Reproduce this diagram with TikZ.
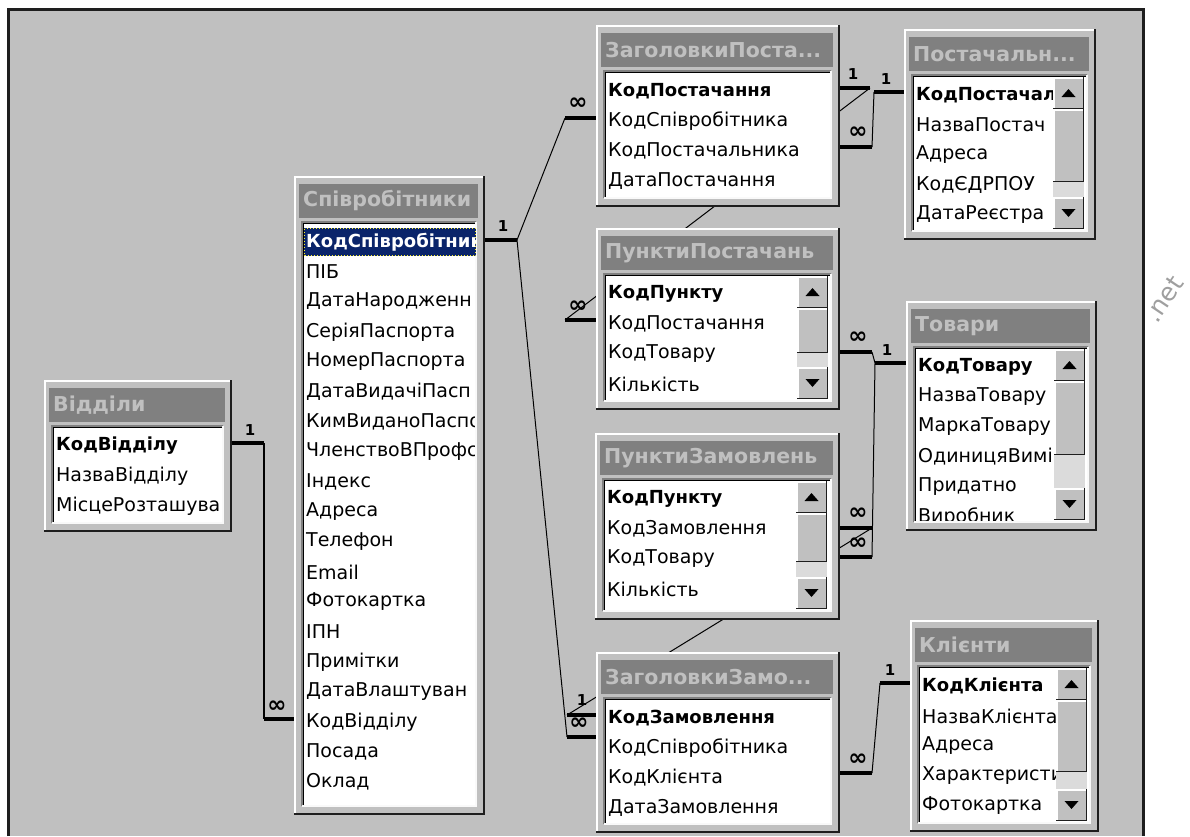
\documentclass[tikz,border=0pt]{standalone}
\usepackage{fontspec}
\setmainfont{DejaVu Sans}
\usetikzlibrary{positioning,calc}
\definecolor{panel}{RGB}{192,192,192}
\definecolor{bardark}{RGB}{128,128,128}
\definecolor{selblue}{RGB}{10,36,106}
\definecolor{edgedark}{RGB}{30,30,30}
\pgfdeclarelayer{back}
\pgfdeclarelayer{links}
\pgfsetlayers{back,links,main}
\tikzset{
  tbl/.style={fill=panel, inner sep=0pt, outer sep=0pt, draw=none},
  hilite/.style={white, line width=1.5pt},
  edgeline/.style={edgedark, line width=2.5pt},
  titlebar/.style={fill=bardark},
  titletext/.style={text=panel, anchor=west, inner sep=0pt, font=\bfseries\fontsize{20.5}{22}\selectfont},
  field/.style={anchor=west, inner sep=0pt, font=\fontsize{19}{21}\selectfont},
  stub/.style={line width=4pt},
  link/.style={line width=1pt},
  one/.style={font=\bfseries\fontsize{15}{15}\selectfont, inner sep=0pt},
  many/.style={font=\bfseries\fontsize{23}{23}\selectfont, inner sep=0pt}
}
\newcommand{\key}[1]{{\bfseries\fontsize{18}{21}\selectfont #1}}
% table window: [title style] name, x1, y1, x2, y2, title, fields
\newcommand{\dbtable}[8][]{%
  \node[tbl, minimum width={(#5-#3)*1pt}, minimum height={(#6-#4)*1pt}] (#2) at ({(#3+#5)/2},{(#4+#6)/2}) {};
  \draw[hilite] (#3+1,#6) -- (#3+1,#4+1) -- (#5,#4+1);
  \draw[edgeline] (#3,#6-1) -- (#5-1,#6-1) -- (#5-1,#4);
  \fill[titlebar] (#3+5,#4+8) rectangle (#5-7,#4+42);
  \node[titletext,#1] (#2-title) at (#3+9,#4+25) {#7};
  \fill[white] (#3+8,#4+46) rectangle (#5-9,#6-9);
  \begin{scope}
    \clip (#3+8,#4+46) rectangle (#5-9,#6-9);
    \foreach \f [count=\i from 0] in {#8}
      \node[field] (#2-f\i) at (#3+12,#4+66+30*\i) {\f};
  \end{scope}
  \draw[bardark, line width=1.5pt] (#3+8,#6-9) -- (#3+8,#4+46) -- (#5-9,#4+46);
  \draw[black, line width=1pt] (#3+9.5,#6-10) -- (#3+9.5,#4+47.5) -- (#5-10,#4+47.5);
  \draw[white!90!panel, line width=1.5pt] (#3+8,#6-9) -- (#5-9,#6-9) -- (#5-9,#4+46);
}
% 3d button: x1, y1, x2, y2
\newcommand{\sbtn}[4]{%
  \fill[panel] (#1,#2) rectangle (#3,#4);
  \draw[white, line width=1.5pt] (#1+0.75,#4) -- (#1+0.75,#2+0.75) -- (#3,#2+0.75);
  \draw[edgedark, line width=1.5pt] (#1,#4-0.75) -- (#3-0.75,#4-0.75) -- (#3-0.75,#2);
}
% scroll bar: x1, x2, top, bottom, thumb bottom
\newcommand{\scrollbar}[5]{%
  \fill[black!14] (#1,#3) rectangle (#2,#4);
  \sbtn{#1}{#3}{#2}{#3+32}
  \sbtn{#1}{#3+32}{#2}{#5}
  \sbtn{#1}{#4-32}{#2}{#4}
  \fill ({(#1+#2)/2-7},#3+20) -- ({(#1+#2)/2+7},#3+20) -- ({(#1+#2)/2},#3+12) -- cycle;
  \fill ({(#1+#2)/2-7},#4-20) -- ({(#1+#2)/2+7},#4-20) -- ({(#1+#2)/2},#4-12) -- cycle;
}

\begin{document}
\begin{tikzpicture}[x=1pt,y=-1pt]
\useasboundingbox (0,0) rectangle (1190,836);
\begin{pgfonlayer}{back}
\fill[white] (0,0) rectangle (1190,836);
\fill[panel] (8,9) rectangle (1143,836);
\draw[edgedark, line width=3pt] (8,836) -- (8,9) -- (1143,9) -- (1143,836);
\end{pgfonlayer}
\node[rotate=56, text=gray!75, font=\fontsize{25}{25}\selectfont] (wm) at (1164,299) {.net};

% tables
\dbtable{viddily}{44}{380}{232}{532}{Відділи}{\key{КодВідділу},НазваВідділу,МісцеРозташува}
\dbtable{spivr}{294}{176}{485}{815}{Співробітники}{{},ПІБ,ДатаНародженн,СеріяПаспорта,НомерПаспорта,ДатаВидачіПасп,КимВиданоПаспо,ЧленствоВПрофс,Індекс,Адреса,Телефон,Email,Фотокартка,ІПН,Примітки,ДатаВлаштуван,КодВідділу,Посада,Оклад}
\begin{scope}
\clip (302,222) rectangle (476,806);
\fill[selblue] (304,228) rectangle (476,256);
\draw[yellow!85!white, dotted, line width=1pt] (304.5,228.5) rectangle (475.5,255.5);
\node[field, text=white] (spivr-sel) at (306,242) {\key{КодСпівробітник}};
\end{scope}
\dbtable{zagpost}{596}{25}{840}{207}{ЗаголовкиПоста...}{\key{КодПостачання},КодСпівробітника,КодПостачальника,ДатаПостачання}
\dbtable{postach}{904}{29}{1096}{240}{Постачальн...}{\key{КодПостачаль},НазваПостач,Адреса,КодЄДРПОУ,ДатаРеєстра}
\scrollbar{1053}{1084}{77}{229}{182}
\dbtable{punktpost}{596}{228}{840}{410}{ПунктиПостачань}{\key{КодПункту},КодПостачання,КодТовару,Кількість}
\scrollbar{797}{828}{276}{399}{353}
\dbtable{tovary}{906}{301}{1097}{531}{Товари}{\key{КодТовару},НазваТовару,МаркаТовару,ОдиницяВимір,Придатно,Виробник}
\scrollbar{1054}{1085}{349}{520}{455}
\dbtable{punktzam}{595}{433}{840}{620}{ПунктиЗамовлень}{\key{КодПункту},КодЗамовлення,КодТовару,Кількість}
\scrollbar{796}{827}{481}{609}{562}
\dbtable{zagzam}{596}{652}{840}{833}{ЗаголовкиЗамо...}{\key{КодЗамовлення},КодСпівробітника,КодКлієнта,ДатаЗамовлення}
\dbtable{klienty}{910}{620}{1099}{832}{Клієнти}{\key{КодКлієнта},НазваКлієнта,Адреса,Характеристи,Фотокартка}
\scrollbar{1056}{1087}{668}{821}{772}

% stub ends
\coordinate (vd-out) at (264,443);
\coordinate (sp-vd) at (264,719);
\coordinate (sp-out) at (517,240);
\coordinate (zp-sp) at (565,118);
\coordinate (zz-sp) at (567,737);
\coordinate (zp-pp) at (870,88);
\coordinate (pp-zp) at (565,320);
\coordinate (zp-ps) at (872,147);
\coordinate (ps-zp) at (874,92);
\coordinate (pp-tv) at (872,352);
\coordinate (tv-in) at (875,363);
\coordinate (pz-tv) at (872,557);
\coordinate (pz-zz) at (872,528);
\coordinate (zz-pz) at (567,715);
\coordinate (zz-kl) at (872,773);
\coordinate (kl-zz) at (880,683);

\begin{pgfonlayer}{links}
\draw[link, line width=1.8pt] (vd-out) -- (sp-vd);
\draw[link] (sp-out) -- (zp-sp);
\draw[link] (sp-out) -- (zz-sp);
\draw[link] (zp-pp) -- (pp-zp);
\draw[link] (zp-ps) -- (ps-zp);
\draw[link] (pp-tv) -- (tv-in);
\draw[link] (pz-tv) -- (tv-in);
\draw[link] (pz-zz) -- (zz-pz);
\draw[link] (zz-kl) -- (kl-zz);
\end{pgfonlayer}

\draw[stub] (vd-out -| viddily.east) -- (vd-out);
\draw[stub] (sp-vd) -- (sp-vd -| spivr.west);
\draw[stub] (sp-out -| spivr.east) -- (sp-out);
\draw[stub] (zp-sp) -- (zp-sp -| zagpost.west);
\draw[stub] (zz-sp) -- (zz-sp -| zagzam.west);
\draw[stub] (zz-pz) -- (zz-pz -| zagzam.west);
\draw[stub] (zp-pp -| zagpost.east) -- (zp-pp);
\draw[stub] (pp-zp) -- (pp-zp -| punktpost.west);
\draw[stub] (zp-ps -| zagpost.east) -- (zp-ps);
\draw[stub] (ps-zp) -- (ps-zp -| postach.west);
\draw[stub] (pp-tv -| punktpost.east) -- (pp-tv);
\draw[stub] (tv-in) -- (tv-in -| tovary.west);
\draw[stub] (pz-tv -| punktzam.east) -- (pz-tv);
\draw[stub] (pz-zz -| punktzam.east) -- (pz-zz);
\draw[stub] (zz-kl -| zagzam.east) -- (zz-kl);
\draw[stub] (kl-zz) -- (kl-zz -| klienty.west);

% cardinality labels
\node[one] (c1) at (250,430) {1};
\node[many] (c2) at (277,707) {∞};
\node[one] (c3) at (503,226) {1};
\node[many] (c4) at (578,104) {∞};
\node[many] (c5) at (579,724) {∞};
\node[one] (c6) at (582,700) {1};
\node[one] (c7) at (853,74) {1};
\node[many] (c8) at (578,307) {∞};
\node[many] (c9) at (858,133) {∞};
\node[one] (c10) at (886,79) {1};
\node[many] (c11) at (858,338) {∞};
\node[one] (c12) at (887,350) {1};
\node[many] (c13) at (858,514) {∞};
\node[many] (c14) at (858,544) {∞};
\node[many] (c15) at (858,760) {∞};
\node[one] (c16) at (890,670) {1};
\end{tikzpicture}
\end{document}
